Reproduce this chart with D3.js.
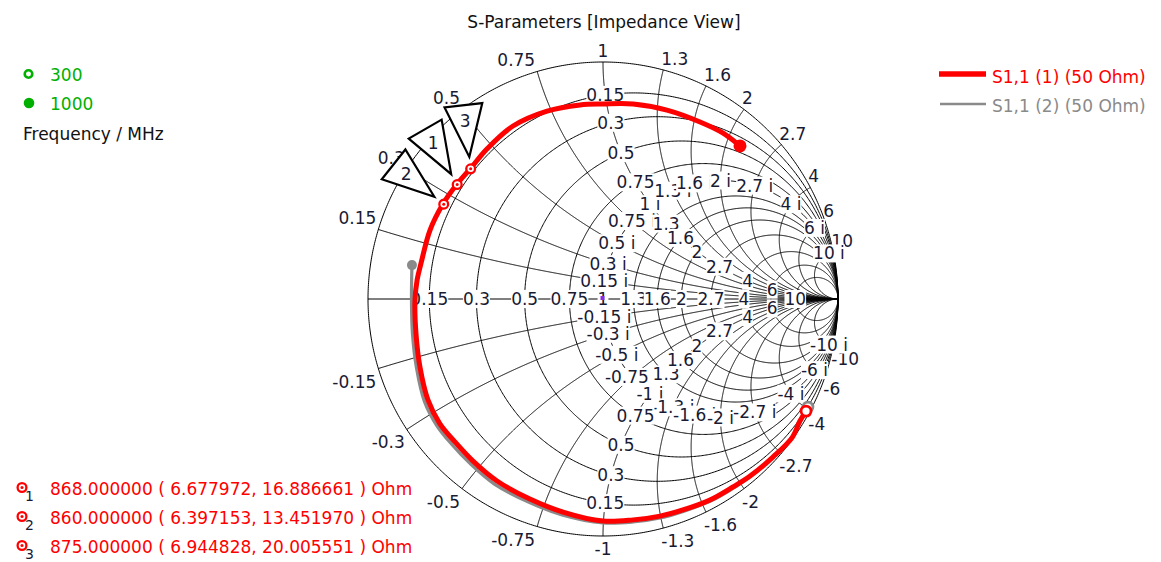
<!DOCTYPE html>
<html>
<head>
<meta charset="utf-8">
<script src="https://cdn.jsdelivr.net/npm/d3@7"></script>
<style>
  html, body { margin: 0; padding: 0; background: #fff; }
  svg { display: block; font-family: "DejaVu Sans", Verdana, sans-serif; }
</style>
</head>
<body>
<svg id="chart" width="1161" height="562"></svg>
<script>
// Smith chart grid values (normalised resistance and reactance)
const resistanceValues = [0.15, 0.3, 0.5, 0.75, 1, 1.3, 1.6, 2, 2.7, 4, 6, 10];
const reactanceValues  = [0.15, 0.3, 0.5, 0.75, 1, 1.3, 1.6, 2, 2.7, 4, 6, 10];

const chartTitle = "S-Parameters [Impedance View]";
const traceNames = ["S1,1 (1) (50 Ohm)", "S1,1 (2) (50 Ohm)"];
const sweepLabels = ["300", "1000"];
const sweepUnit = "Frequency / MHz";
const z0 = 50;

// S1,1 (1): reflection coefficient, real / imaginary part, 300 MHz -> 1000 MHz
const s11aRe = [0.864, 0.838, 0.804, 0.723, 0.626, 0.553, 0.455, 0.340, 0.243, 0.128, 0.000,
                -0.170, -0.311, -0.451, -0.553, -0.630, -0.694, -0.745, -0.779, -0.796, -0.800,
                -0.791, -0.774, -0.736, -0.681, -0.621, -0.562, -0.494, -0.383, -0.238, -0.098,
                0.000, 0.128, 0.272, 0.413, 0.511, 0.583];
const s11aIm = [-0.473, -0.515, -0.586, -0.667, -0.747, -0.793, -0.848, -0.890, -0.916, -0.932, -0.937,
                -0.899, -0.844, -0.768, -0.684, -0.603, -0.527, -0.426, -0.287, -0.143, -0.004,
                0.080, 0.152, 0.291, 0.401, 0.485, 0.553, 0.633, 0.730, 0.793, 0.819,
                0.823, 0.823, 0.797, 0.747, 0.700, 0.646];

// S1,1 (2): reflection coefficient, real / imaginary part, 300 MHz -> 1000 MHz
const s11bRe = [0.872, 0.843, 0.809, 0.728, 0.630, 0.557, 0.460, 0.345, 0.243, 0.128, 0.000,
                -0.174, -0.317, -0.462, -0.564, -0.643, -0.706, -0.760, -0.794, -0.811, -0.815, -0.813];
const s11bIm = [-0.456, -0.502, -0.578, -0.662, -0.747, -0.797, -0.852, -0.895, -0.924, -0.941, -0.945,
                -0.911, -0.857, -0.781, -0.696, -0.614, -0.536, -0.432, -0.289, -0.143, -0.004, 0.143];

// Markers on S1,1 (1): frequency in MHz and impedance in Ohm
const markerIds   = [1, 2, 3];
const markerFreqs = [868, 860, 875];
const markerR     = [6.677972, 6.397153, 6.944828];
const markerX     = [16.886661, 13.451970, 20.005551];
// direction (screen degrees) of each marker's callout triangle
const calloutAngles = [-120, -141.6, -96.5];

const COL_RED = "#ff0000", COL_GRAY = "#8a8a8a", COL_GREEN = "#00b000", COL_TEXT = "#1a1a33";

const svg = d3.select("#chart");
const sx = d3.scaleLinear().domain([-1, 1]).range([368, 838]);
const sy = d3.scaleLinear().domain([-1, 1]).range([536, 62]);
const line = d3.line().x(d => sx(d[0])).y(d => sy(d[1]));
const smooth = d3.line().x(d => sx(d[0])).y(d => sy(d[1])).curve(d3.curveCatmullRom.alpha(0.5));

// impedance (normalised) -> reflection coefficient
function gamma(r, x) {
  const den = (r + 1) * (r + 1) + x * x;
  return [(r * r - 1 + x * x) / den, (2 * x) / den];
}
const fmt = v => String(Math.round(v * 100) / 100);

// ---- title
svg.append("text").attr("x", 604).attr("y", 28).attr("text-anchor", "middle")
  .attr("font-size", 17).attr("fill", "#111").text(chartTitle);

// ---- grid
const grid = svg.append("g").attr("fill", "none").attr("stroke", "#000").attr("stroke-width", 1);
[0, ...resistanceValues].forEach(r => {
  const c = r / (1 + r), rad = 1 / (1 + r);
  const pts = d3.range(0, 721).map(i => {
    const a = i / 720 * 2 * Math.PI;
    return [c + rad * Math.cos(a), rad * Math.sin(a)];
  });
  grid.append("path").attr("d", line(pts));
});
reactanceValues.forEach(v => [v, -v].forEach(x => {
  const pts = d3.range(0, 800).map(i => gamma(Math.tan(i / 800 * Math.PI / 2), x));
  pts.push([1, 0]);
  grid.append("path").attr("d", line(pts));
}));
grid.append("path").attr("d", line([[-1, 0], [1, 0]]));

// ---- grid labels (white boxes hide the grid lines underneath)
const labels = svg.append("g").attr("font-size", 17).attr("fill", COL_TEXT);
function addLabel(txt, x, y, anchor) {
  const g = labels.append("g");
  const t = g.append("text").attr("x", x).attr("y", y).attr("text-anchor", anchor).text(txt);
  const b = t.node().getBBox();
  g.insert("rect", "text").attr("x", b.x).attr("y", b.y + 1)
    .attr("width", b.width).attr("height", b.height - 2).attr("fill", "#fff");
}
// reactance values around the rim
reactanceValues.forEach(v => [v, -v].forEach(x => {
  const p = gamma(0, x), px = sx(p[0]), py = sy(p[1]);
  let anchor = "middle", dx = 0;
  if (p[0] < -0.05) { anchor = "end"; dx = -2; }
  else if (p[0] > 0.05) { anchor = "start"; dx = -2; }
  labels.append("text").attr("x", px + dx).attr("y", x > 0 ? py - 5 : py + 19)
    .attr("text-anchor", anchor).text(fmt(x));
}));
// reactance values on the r = 1 circle
reactanceValues.forEach(v => [v, -v].forEach(x => {
  const p = gamma(1, x);
  addLabel(fmt(x) + " i", sx(p[0]), sy(p[1]) + 6, "middle");
}));
// resistance values on the real axis (the outermost ones sit on the x = ±1 arcs instead)
resistanceValues.filter(r => r < 6 || r === 10).forEach(r => {
  const p = gamma(r, 0);
  addLabel(fmt(r), sx(p[0]), sy(p[1]) + 6, "middle");
});
// resistance values on the x = +1 / -1 arcs
resistanceValues.filter(r => r !== 1 && r !== 10).forEach(r => [1, -1].forEach(x => {
  const p = gamma(r, x);
  addLabel(fmt(r), sx(p[0]), sy(p[1]) + 6, "middle");
}));

// centre point
svg.append("rect").attr("x", sx(0) - 2.5).attr("y", sy(0) - 3).attr("width", 4).attr("height", 4)
  .attr("fill", "#8a2be2");

// ---- traces
const traceB = s11bRe.map((v, i) => [v, s11bIm[i]]);
const traceA = s11aRe.map((v, i) => [v, s11aIm[i]]);
const tr = svg.append("g").attr("fill", "none").attr("stroke-linejoin", "round").attr("stroke-linecap", "round");
tr.append("path").attr("d", smooth(traceB)).attr("stroke", COL_GRAY).attr("stroke-width", 3.2);
tr.append("path").attr("d", smooth(traceA)).attr("stroke", COL_RED).attr("stroke-width", 5);

// start (open) and stop (filled) points of the sweep
function endPoints(data, col, rStart, rEnd) {
  const s = data[0], e = data[data.length - 1];
  svg.append("circle").attr("cx", sx(s[0])).attr("cy", sy(s[1])).attr("r", rStart)
    .attr("fill", "#fff").attr("stroke", col).attr("stroke-width", 2.8);
  svg.append("circle").attr("cx", sx(e[0])).attr("cy", sy(e[1])).attr("r", rEnd).attr("fill", col);
}
endPoints(traceB, COL_GRAY, 5, 5);
endPoints(traceA, COL_RED, 5, 6.5);

// ---- markers
const markerPts = markerIds.map((id, i) => {
  const g = gamma(markerR[i] / z0, markerX[i] / z0);
  return { id, x: sx(g[0]), y: sy(g[1]), ang: calloutAngles[i] * Math.PI / 180 };
});
function markerGlyph(sel, x, y) {
  sel.append("circle").attr("cx", x).attr("cy", y).attr("r", 4.4)
    .attr("fill", "#fff").attr("stroke", COL_RED).attr("stroke-width", 2.3);
  sel.append("circle").attr("cx", x).attr("cy", y).attr("r", 1.5).attr("fill", COL_RED);
}
markerPts.forEach(m => markerGlyph(svg, m.x, m.y));

// callout triangles
const callouts = svg.append("g");
markerPts.forEach(m => {
  const dx = Math.cos(m.ang), dy = Math.sin(m.ang);
  const tip = [m.x + 12 * dx, m.y + 12 * dy];
  const bm = [m.x + 64 * dx, m.y + 64 * dy];
  const pts = [tip, [bm[0] - 19 * dy, bm[1] + 19 * dx], [bm[0] + 19 * dy, bm[1] - 19 * dx]];
  callouts.append("path").attr("d", "M" + pts.map(p => p.join(",")).join("L") + "Z")
    .attr("fill", "#fff").attr("stroke", "#000").attr("stroke-width", 2.2).attr("stroke-linejoin", "miter");
  callouts.append("text").attr("x", m.x + 48 * dx).attr("y", m.y + 48 * dy + 6)
    .attr("text-anchor", "middle").attr("font-size", 17).attr("fill", COL_TEXT).text(m.id);
});

// ---- sweep legend (top left)
svg.append("circle").attr("cx", 28.5).attr("cy", 74).attr("r", 3.8)
  .attr("fill", "#fff").attr("stroke", COL_GREEN).attr("stroke-width", 2.6);
svg.append("circle").attr("cx", 29).attr("cy", 103).attr("r", 5.3).attr("fill", COL_GREEN);
svg.append("text").attr("x", 50).attr("y", 81).attr("font-size", 17).attr("fill", COL_GREEN).text(sweepLabels[0]);
svg.append("text").attr("x", 50).attr("y", 110).attr("font-size", 17).attr("fill", COL_GREEN).text(sweepLabels[1]);
svg.append("text").attr("x", 23).attr("y", 140).attr("font-size", 17).attr("fill", "#111").text(sweepUnit);

// ---- trace legend (top right)
svg.append("line").attr("x1", 939).attr("x2", 986).attr("y1", 74).attr("y2", 74)
  .attr("stroke", COL_RED).attr("stroke-width", 5.5);
svg.append("line").attr("x1", 940).attr("x2", 986).attr("y1", 104).attr("y2", 104)
  .attr("stroke", COL_GRAY).attr("stroke-width", 2.5);
svg.append("text").attr("x", 992).attr("y", 83).attr("font-size", 17).attr("fill", COL_RED).text(traceNames[0]);
svg.append("text").attr("x", 992).attr("y", 112).attr("font-size", 17).attr("fill", COL_GRAY).text(traceNames[1]);

// ---- marker readouts (bottom left)
const mf = d3.format(".6f");
markerIds.forEach((id, i) => {
  const y = 494.5 + i * 29;
  markerGlyph(svg, 22, y - 7);
  svg.append("text").attr("x", 25).attr("y", y + 6).attr("font-size", 14).attr("fill", COL_TEXT).text(id);
  svg.append("text").attr("x", 50).attr("y", y).attr("font-size", 17).attr("fill", COL_RED)
    .text(`${mf(markerFreqs[i])} ( ${mf(markerR[i])}, ${mf(markerX[i])} ) Ohm`);
});
</script>
</body>
</html>
